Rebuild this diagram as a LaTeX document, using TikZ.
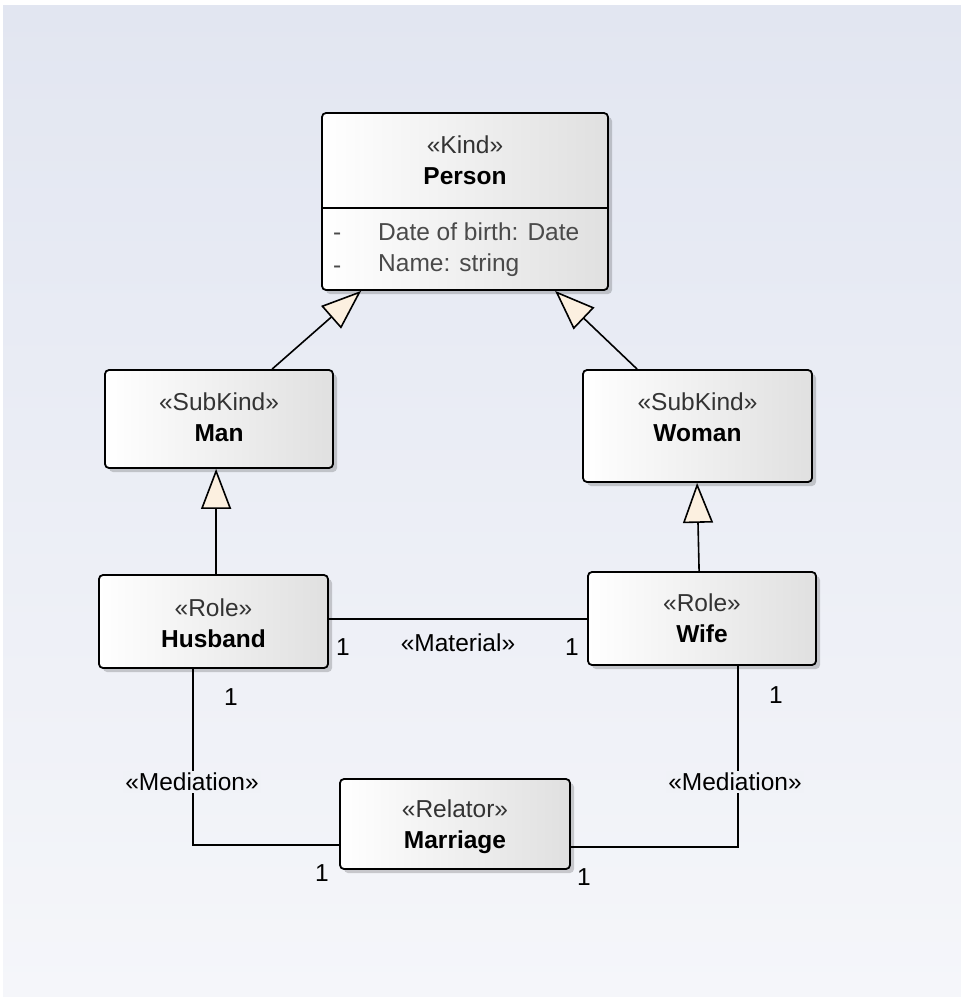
\documentclass[tikz,border=0pt]{standalone}
\usepackage{fontspec}
\setmainfont{Liberation Sans}
\usetikzlibrary{arrows.meta,shadows,calc}
\definecolor{bgtop}{HTML}{E2E6F1}
\definecolor{bgbot}{HTML}{F5F6FA}
\definecolor{labelbg}{HTML}{F0F2F7}
\definecolor{genfill}{HTML}{FCF0E0}
\definecolor{boxright}{HTML}{E0E0E0}
\definecolor{stereo}{HTML}{333333}
\definecolor{attr}{HTML}{4A4A4A}

\begin{document}
\begin{tikzpicture}[x=1pt,y=-1pt,
  font=\fontsize{24.5}{31}\selectfont,
  umlbox/.style={draw=black, line width=1.8pt, rounded corners=4pt,
    left color=white, right color=boxright,
    drop shadow={shadow xshift=4pt, shadow yshift=-4pt, fill=black, opacity=0.18},
    inner sep=0pt},
  title/.style={align=center, inner sep=0pt},
  attrtext/.style={anchor=west, text=attr, inner sep=0pt},
  conn/.style={draw=black, line width=1.6pt},
  gen/.style={conn, -{Triangle[length=40pt, width=30pt, fill=genfill]}},
  mult/.style={inner sep=0pt},
  assoclabel/.style={inner sep=2pt, fill=labelbg}
]
% canvas
\useasboundingbox (0,0) rectangle (961,997);
\fill[white] (0,0) rectangle (961,997);
\shade[top color=bgtop, bottom color=bgbot] (3,5) rectangle (961,997);

% classes
\node[umlbox, minimum width=286pt, minimum height=177pt] (person) at (465,201.5) {};
\node[umlbox, minimum width=228pt, minimum height=98pt] (man) at (219,419) {};
\node[umlbox, minimum width=229pt, minimum height=112pt] (woman) at (697.5,426) {};
\node[umlbox, minimum width=229pt, minimum height=93pt] (husband) at (213.5,621.5) {};
\node[umlbox, minimum width=228pt, minimum height=93pt] (wife) at (702,618.5) {};
\node[umlbox, minimum width=230pt, minimum height=90pt] (marriage) at (455,824) {};

% class titles
\node[title] (persontitle) at (465,160) {{\color{stereo}«Kind»}\\\textbf{Person}};
\node[title] (mantitle) at (219,417) {{\color{stereo}«SubKind»}\\\textbf{Man}};
\node[title] (womantitle) at (697.5,417) {{\color{stereo}«SubKind»}\\\textbf{Woman}};
\node[title] (husbandtitle) at (213.5,623) {{\color{stereo}«Role»}\\\textbf{Husband}};
\node[title] (wifetitle) at (702,618.5) {{\color{stereo}«Role»}\\\textbf{Wife}};
\node[title] (marriagetitle) at (455,827) {{\color{stereo}«Relator»}\\\textbf{Marriage}};

% attribute compartment of Person
\draw[line width=1.6pt] (person.west |- 0,208) -- (person.east |- 0,208);
\node[attrtext] (dash1) at (333,237) {-};
\node[attrtext] (attr1) at (378,232) {Date of birth: Date};
\node[attrtext] (dash2) at (333,270) {-};
\node[attrtext] (attr2) at (378,265) {Name: string};

% generalizations
\draw[gen] ($(man.north west)+(168,0)$) -- ($(person.south west)+(40,0)$);
\draw[gen] ($(woman.north west)+(55,0)$) -- ($(person.south west)+(234,0)$);
\draw[gen] ($(husband.north west)+(118,0)$) -- ($(man.south west)+(112,0)$);
\draw[gen] ($(wife.north west)+(112,0)$) -- ($(woman.south west)+(115,0)$);

% material relation
\draw[conn] (husband.east |- 0,619) -- (wife.west |- 0,619);
\node[mult] (matl) at (343,647) {1};
\node[mult] (matlabel) at (458,643) {«Material»};
\node[mult] (matr) at (572,647) {1};

% mediations
\draw[conn] ($(husband.south west)+(95,0)$) |- (marriage.west |- 0,845);
\draw[conn] ($(wife.south west)+(151,0)$) |- (marriage.east |- 0,847);
\node[assoclabel] (medl) at (192,782) {«Mediation»};
\node[assoclabel] (medr) at (735,782) {«Mediation»};
\node[mult] (medlh) at (231,697) {1};
\node[mult] (medlm) at (322,873) {1};
\node[mult] (medrw) at (776,695) {1};
\node[mult] (medrm) at (584,877) {1};
\end{tikzpicture}
\end{document}
